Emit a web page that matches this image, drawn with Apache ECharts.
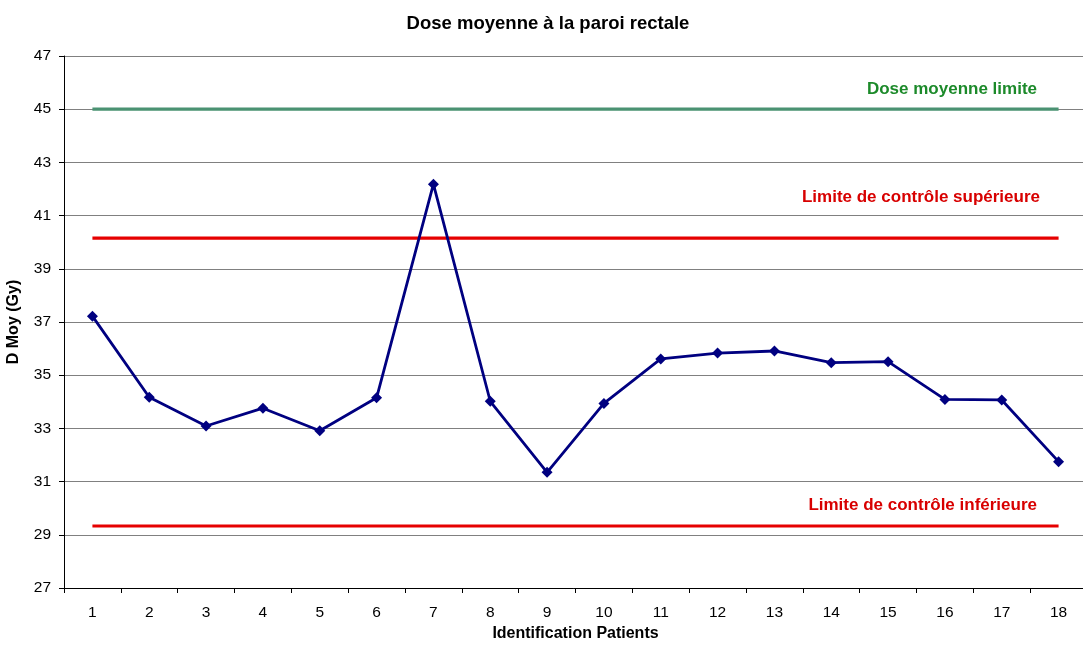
<!DOCTYPE html>
<html>
<head>
<meta charset="utf-8">
<script src="https://cdn.jsdelivr.net/npm/echarts@6/dist/echarts.min.js"></script>
<style>
  html, body { margin: 0; padding: 0; background: #fff; overflow: hidden; }
  #chart { width: 1083px; height: 648px; }
</style>
</head>
<body>
<div id="chart"></div>
<script>
// Patient identifiers and mean rectal wall dose (Gy)
const patients = ['1','2','3','4','5','6','7','8','9','10','11','12','13','14','15','16','17','18'];
const doseMoy = [37.22, 34.17, 33.09, 33.76, 32.91, 34.15, 42.18, 34.02, 31.35, 33.94, 35.61, 35.83, 35.91, 35.47, 35.51, 34.09, 34.07, 31.75];

// Reference levels (Gy)
const doseLimite = 45;
const limiteSup = 40.15;
const limiteInf = 29.33;

const yTicks = { min: 27, max: 47, interval: 2 };

const font = 'Liberation Sans, Arial, sans-serif';

// Horizontal reference level drawn from the first to the last patient
function refLine(value, color) {
  return {
    type: 'line',
    data: patients.map(() => value),
    symbol: 'none',
    lineStyle: { color: color, width: 3.2 },
    silent: true,
    z: 1
  };
}

const chart = echarts.init(document.getElementById('chart'), null, { renderer: 'canvas' });

chart.setOption({
  animation: false,
  backgroundColor: '#ffffff',
  title: {
    text: 'Dose moyenne à la paroi rectale',
    left: 543,
    textAlign: 'center',
    top: 9,
    textStyle: { fontFamily: font, fontSize: 18.5, fontWeight: 'bold', color: '#000' }
  },
  // the plot area runs slightly past the right edge of the canvas
  grid: { left: 64, width: 1023, top: 56, bottom: 60, containLabel: false, outerBoundsMode: 'none' },
  xAxis: {
    type: 'category',
    data: patients,
    boundaryGap: true,
    name: 'Identification Patients',
    nameLocation: 'middle',
    nameGap: 35,
    nameTextStyle: { fontFamily: font, fontSize: 16, fontWeight: 'bold', color: '#000' },
    axisLine: { lineStyle: { color: '#000', width: 1 } },
    axisTick: { show: true, inside: false, length: 5, lineStyle: { color: '#000' } },
    axisLabel: { fontFamily: font, fontSize: 15.5, color: '#000', margin: 17 },
    splitLine: { show: false }
  },
  yAxis: {
    type: 'value',
    min: yTicks.min,
    max: yTicks.max,
    interval: yTicks.interval,
    name: 'D Moy (Gy)',
    nameLocation: 'middle',
    nameGap: 42,
    nameRotate: 90,
    nameTextStyle: { fontFamily: font, fontSize: 16, fontWeight: 'bold', color: '#000' },
    axisLine: { show: true, lineStyle: { color: '#000', width: 1 } },
    axisTick: { show: true, inside: false, length: 5, lineStyle: { color: '#000' } },
    axisLabel: { fontFamily: font, fontSize: 15.5, color: '#000', margin: 13 },
    splitLine: { show: true, lineStyle: { color: '#808080', width: 1 } }
  },
  series: [
    refLine(doseLimite, '#4a9272'),
    refLine(limiteSup, '#e60000'),
    refLine(limiteInf, '#e60000'),
    {
      type: 'line',
      data: doseMoy,
      symbol: 'diamond',
      symbolSize: 11,
      lineStyle: { color: '#000080', width: 2.8 },
      itemStyle: { color: '#000080' },
      z: 5
    }
  ],
  graphic: [
    {
      type: 'text', right: 46, top: 81,
      style: { text: 'Dose moyenne limite', font: 'bold 17px ' + font, fill: '#1c8a2a' }
    },
    {
      type: 'text', right: 43, top: 189,
      style: { text: 'Limite de contrôle supérieure', font: 'bold 17px ' + font, fill: '#d80000' }
    },
    {
      type: 'text', right: 46, top: 497,
      style: { text: 'Limite de contrôle inférieure', font: 'bold 17px ' + font, fill: '#d80000' }
    }
  ]
});
</script>
</body>
</html>
